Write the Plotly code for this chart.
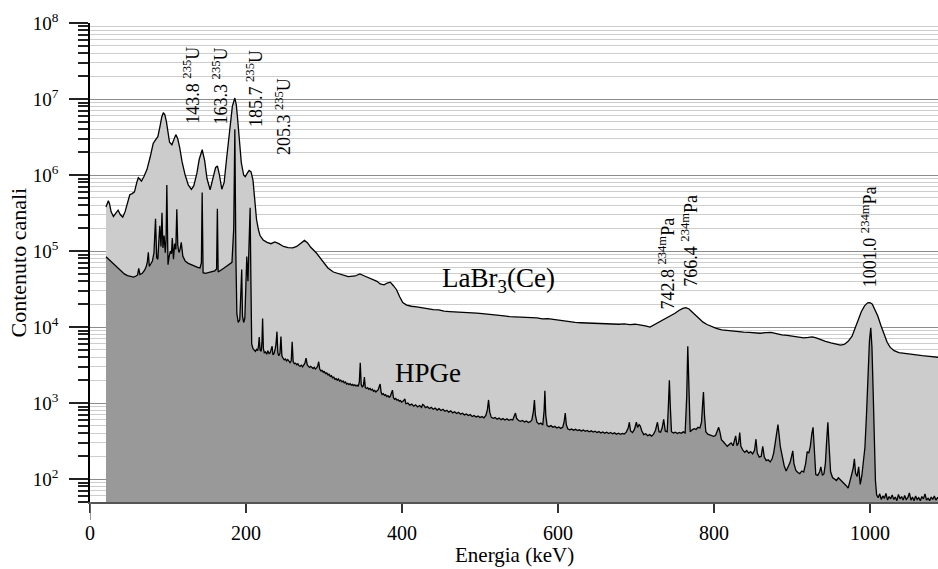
import math
import plotly.graph_objects as go

# ---- LaBr3(Ce) spectrum: (energy keV, counts per channel) ----
LABR3 = [
    (20.5, 380000), (22, 430000), (23.5, 460000), (25, 420000), (27, 330000), (30, 285000),
    (33, 310000), (36, 345000), (39, 300000), (42, 280000), (45, 330000), (48, 430000),
    (51, 550000), (54, 570000), (57, 600000), (60, 800000), (62, 920000), (64, 880000),
    (66, 830000), (69, 950000), (73, 1180000), (77, 1700000), (81, 2600000), (84, 2900000),
    (87, 3200000), (90, 4500000), (92, 5800000), (94, 6600000), (96, 6200000), (98, 5000000),
    (100, 3500000), (102, 2700000), (105, 2500000), (107.5, 3000000), (110, 3400000),
    (112.5, 3000000), (115, 2300000), (118, 1500000), (122, 1000000), (126, 740000),
    (130, 650000), (133, 720000), (137, 1050000), (140, 1600000), (143.8, 2150000),
    (147, 1550000), (150, 900000), (154, 640000), (158, 950000), (161, 1250000),
    (163.3, 1320000), (166, 1000000), (169, 650000), (172, 800000), (175, 1600000),
    (178, 2900000), (180, 4900000), (182.5, 8000000), (185.7, 10300000), (187.5, 8500000),
    (189, 5900000), (191, 3000000), (194, 1450000), (197, 1000000), (199, 950000),
    (201.5, 1050000), (204, 1150000), (206.5, 1100000), (209, 850000), (211, 500000),
    (213.5, 260000), (216, 190000), (218, 160000), (222, 140000), (227, 130000),
    (232, 125000), (237, 132000), (242, 125000), (248, 115000), (254, 111000),
    (260, 110000), (265, 115000), (270, 127000), (275, 138000), (279, 128000),
    (283, 112000), (290, 95000), (298, 75000), (305, 60000), (312, 53000), (321, 49000),
    (331, 46000), (340, 47000), (346, 50000), (352, 47000), (358, 44000), (363, 42000),
    (368, 40000), (372, 37000), (377, 36000), (381, 38000), (385, 39000), (389, 35000),
    (393, 31000), (397, 25000), (401, 21000), (406, 19500), (412, 18800), (419, 18500),
    (426, 18000), (433, 17300), (440, 17000), (447, 16800), (454, 16200), (461, 16000),
    (468, 15900), (475, 15700), (482, 15500), (489, 15600), (496, 15300), (503, 15000),
    (510, 14800), (517, 14400), (524, 14200), (531, 14000), (538, 13700), (545, 13600),
    (552, 13500), (559, 13300), (566, 13300), (573, 13200), (580, 12800), (587, 12900),
    (594, 12600), (601, 12300), (608, 11900), (615, 11700), (622, 11500), (629, 11400),
    (636, 11300), (643, 11200), (650, 11100), (657, 11000), (664, 11100), (671, 10950),
    (678, 10900), (685, 11000), (692, 10800), (699, 10900), (706, 10700), (712, 10400),
    (718, 10000), (724, 10800), (730, 11800), (736, 12600), (740, 13200), (745, 14000),
    (750, 15200), (755, 16500), (760, 17600), (764, 18000), (768, 17300), (772, 15800),
    (776, 14500), (781, 12800), (786, 11600), (791, 10800), (797, 10100), (803, 9600),
    (810, 9200), (817, 9000), (824, 8800), (831, 8700), (838, 8600), (845, 8500),
    (852, 8400), (859, 8300), (866, 8450), (873, 8500), (880, 8200), (887, 7900),
    (894, 7800), (901, 7600), (908, 7400), (915, 7200), (921, 7300), (926, 7450),
    (931, 7200), (937, 6800), (943, 6500), (950, 6200), (956, 6000), (962, 5800),
    (967, 5900), (972, 6500), (977, 7600), (981, 9500), (985, 12500), (989, 16000),
    (993, 19000), (997, 20800), (1000, 21000), (1003, 20000), (1006, 17500), (1010, 14000),
    (1014, 10500), (1018, 8000), (1022, 6300), (1026, 5400), (1031, 4900), (1037, 4600),
    (1043, 4500), (1049, 4400), (1055, 4300), (1061, 4250), (1067, 4200), (1073, 4150),
    (1079, 4100), (1085, 4050), (1088, 4000),
]

# ---- HPGe spectrum: (energy keV, counts per channel) ----
HPGE = [
    (20.5, 84000), (24, 78000), (28, 71000), (32, 64000), (36, 59000), (40, 54000),
    (44, 50000), (48, 47500), (52, 46000), (56, 45500), (59, 47000), (61, 48500),
    (62.5, 59000), (64, 49000), (67, 51000), (70, 56000), (72, 62000), (73.5, 72000),
    (74.8, 96000), (76, 63000), (78, 68000), (80, 74000), (82, 95000), (84, 265000),
    (85.5, 82000), (87, 78000), (88.5, 150000), (89.5, 215000), (91, 115000), (92.3, 320000),
    (93.5, 110000), (95, 160000), (96.5, 95000), (97.5, 140000), (98.5, 740000), (100, 66000),
    (101.5, 85000), (103, 100000), (104.5, 92000), (105.5, 148000), (107, 78000),
    (108.5, 125000), (110, 105000), (111.3, 355000), (112.5, 120000), (114, 96000),
    (115.5, 105000), (117, 130000), (119, 86000), (122, 74000), (126, 69000), (130, 66000),
    (134, 63000), (138, 61000), (141, 60000), (142.8, 70000), (143.8, 590000), (145, 52000),
    (148, 51000), (152, 52500), (156, 54000), (160, 55000), (162.3, 58000), (163.3, 360000),
    (164.3, 53000), (167, 55000), (171, 59000), (175, 63000), (179, 67000), (182, 71000),
    (184.3, 200000), (185.7, 4000000), (187, 90000), (188.3, 15000), (190, 11500),
    (192, 12500), (193.5, 30000), (194.5, 57000), (195.5, 14000), (197, 11500), (198.5, 13000),
    (200, 50000), (201, 85000), (202.5, 40000), (204, 150000), (205.3, 370000), (206.3, 40000),
    (207.3, 6000), (209, 5200), (210.5, 5000), (212, 4800), (213.5, 5100), (215, 4900),
    (216, 5600), (217, 7400), (218, 5000), (219.5, 4800), (220.5, 6500), (221.3, 13000),
    (222.3, 5200), (223.5, 4600), (225, 4700), (226.5, 4400), (228, 4900), (229.5, 4500),
    (231, 4600), (232.5, 5300), (233.5, 5600), (234.5, 4300), (236, 4500), (237.5, 5200),
    (238.5, 6000), (239.7, 8700), (240.8, 4600), (242, 4200), (243.5, 4500), (244.8, 7500),
    (246, 4200), (247.5, 3900), (249, 3700), (250.5, 3800), (252, 3600), (253.5, 3750),
    (255, 3500), (256.5, 3400), (258, 3600), (259.2, 6400), (260.5, 3500), (262, 3300),
    (263.5, 3350), (265, 3200), (266.5, 3300), (268, 3100), (269.5, 3050), (271, 3150),
    (272.5, 3000), (274, 3200), (275.5, 3350), (277, 3900), (278.5, 3200), (280, 3050),
    (281.5, 2950), (283, 3050), (284.5, 2900), (286, 2850), (287.5, 2950), (289, 2800),
    (290.5, 2900), (292, 3100), (293.2, 3500), (294.5, 2800), (296, 2650), (297.5, 2700),
    (299, 2550), (300.5, 2600), (302, 2450), (303.5, 2500), (305, 2350), (306.5, 2400),
    (308, 2250), (309.5, 2300), (311, 2150), (312.5, 2200), (314, 2050), (315.5, 2100),
    (317, 2000), (318.5, 2080), (320, 1950), (321.5, 2000), (323, 1900), (324.5, 1950),
    (326, 1850), (327.5, 1900), (329, 1780), (330.5, 1820), (332, 1750), (333.5, 1800),
    (335, 1720), (336.5, 1760), (338, 1700), (339.5, 1740), (341, 1680), (342.5, 1720),
    (344, 1660), (345.3, 1900), (346.5, 3400), (347.7, 1750), (349, 1640), (350.5, 1700),
    (351.8, 2200), (353, 1600), (354.5, 1560), (356, 1600), (357.5, 1520), (359, 1560),
    (360.5, 1480), (362, 1520), (363.5, 1430), (365, 1470), (366.5, 1400), (368, 1440),
    (369.5, 1500), (370.8, 1650), (372, 1780), (373.2, 1400), (374.5, 1300), (376, 1330),
    (377.5, 1260), (379, 1290), (380.5, 1220), (382, 1250), (383.5, 1190), (385, 1230),
    (386.5, 1350), (387.8, 1480), (389, 1180), (390.5, 1120), (392, 1150), (393.5, 1090),
    (395, 1110), (396.5, 1060), (398, 1080), (399.5, 1030), (401, 1050), (402.5, 1120),
    (403.8, 1130), (405, 980), (407.5, 1000), (410, 940), (412.5, 970), (415, 910),
    (417.5, 950), (420, 890), (422.5, 930), (425, 880), (426.5, 960), (428, 940), (430, 870),
    (432.5, 900), (435, 850), (437.5, 880), (440, 830), (442.5, 860), (445, 810),
    (447.5, 845), (450, 800), (452.5, 830), (455, 780), (457.5, 805), (460, 760),
    (462.5, 790), (465, 745), (467.5, 770), (470, 730), (472.5, 755), (475, 715),
    (477.5, 735), (480, 700), (482.5, 720), (485, 685), (487.5, 705), (490, 665),
    (492.5, 685), (495, 655), (497.5, 675), (500, 645), (502.5, 665), (505, 640),
    (507.5, 690), (509.5, 820), (511, 1100), (512.5, 760), (514.5, 650), (517, 630),
    (519.5, 645), (522, 615), (524.5, 635), (527, 605), (529.5, 625), (532, 600),
    (534.5, 620), (537, 595), (539.5, 610), (542, 600), (544, 680), (545.5, 740), (547, 630),
    (549.5, 590), (552, 575), (554.5, 590), (557, 565), (559.5, 580), (562, 555),
    (564.5, 570), (566.5, 600), (568.5, 780), (569.8, 1100), (571, 700), (573, 560),
    (575.5, 530), (578, 545), (580.5, 515), (582.2, 800), (583.2, 1450), (584.3, 700),
    (586, 505), (588.5, 490), (591, 505), (593.5, 480), (596, 495), (598.5, 470),
    (601, 485), (603.5, 465), (606, 480), (607.8, 560), (609.3, 740), (610.7, 520),
    (612.5, 460), (615, 445), (617.5, 455), (620, 440), (622.5, 452), (625, 435),
    (627.5, 445), (630, 430), (632.5, 442), (635, 425), (637.5, 437), (640, 420),
    (642.5, 432), (645, 415), (647.5, 426), (650, 410), (652.5, 422), (655, 405),
    (657.5, 418), (660, 402), (662.5, 414), (665, 398), (667.5, 410), (670, 395),
    (672.5, 406), (675, 390), (677.5, 402), (680, 388), (682.5, 400), (685, 392),
    (687.5, 415), (690, 470), (691.5, 560), (693, 430), (695.5, 410), (698, 450),
    (700.5, 560), (702, 480), (704, 520), (705.5, 500), (707.5, 430), (710, 385),
    (712.5, 395), (715, 372), (717.5, 385), (720, 368), (722.5, 390), (725, 440),
    (727.5, 560), (729.5, 420), (731.5, 415), (733.5, 470), (735.5, 610), (737.5, 430),
    (740, 420), (741.5, 900), (742.8, 2000), (744, 900), (745.5, 420), (748, 405),
    (750.5, 415), (753, 398), (755.5, 412), (758, 400), (760.5, 418), (763, 405),
    (765, 1200), (766.4, 5600), (767.8, 1200), (769.5, 420), (772, 445), (774.5, 460),
    (777, 450), (779.5, 480), (782, 470), (784, 560), (785.5, 1000), (786.5, 1400),
    (787.8, 700), (789.5, 420), (792, 390), (794.5, 380), (797, 370), (799.5, 365),
    (802, 375), (804, 420), (806, 480), (807.5, 420), (809.5, 330), (812, 310),
    (814.5, 290), (817, 270), (819.5, 285), (822, 300), (824.5, 275), (826.5, 330),
    (827.8, 370), (829.5, 275), (831.5, 300), (833, 410), (834.5, 270), (837, 240),
    (839.5, 225), (842, 238), (844.5, 220), (847, 230), (849.5, 215), (852, 240),
    (853.8, 335), (855.5, 220), (858, 195), (860.5, 200), (862.5, 270), (864.5, 195),
    (867, 175), (869.5, 180), (872, 168), (874.5, 185), (876.5, 220), (878.5, 300),
    (880.5, 440), (882, 520), (883.5, 380), (885, 270), (887.5, 200), (890, 150),
    (892.5, 128), (895, 145), (897.5, 165), (899.5, 200), (901, 235), (902.5, 160),
    (905, 130), (907.5, 122), (910, 118), (912.5, 128), (915, 124), (917.5, 160),
    (919.5, 230), (921.5, 220), (923.5, 270), (925.5, 400), (927, 480), (928.5, 260),
    (930.5, 115), (933, 112), (935.5, 125), (937, 145), (939, 112), (941, 118),
    (942.8, 160), (944.3, 300), (946, 560), (947.5, 280), (949.5, 125), (952, 105),
    (954.5, 100), (957, 96), (959.5, 104), (962, 98), (964.5, 94), (967, 88), (969.5, 82),
    (972, 76), (974, 95), (976.5, 115), (978.5, 140), (980, 185), (981.5, 120),
    (983.5, 108), (985.5, 145), (987.5, 85), (989.5, 110), (991.5, 160), (993.5, 260),
    (995.5, 700), (997.5, 2400), (999.3, 6500), (1001.0, 9800), (1002.5, 5500),
    (1004, 1500), (1005.5, 300), (1007, 95), (1008.5, 62), (1010.5, 57), (1012.5, 64),
    (1014.5, 54), (1016.5, 60), (1018.5, 56), (1020.5, 65), (1022.5, 53), (1024.5, 59),
    (1026.5, 55), (1028.5, 62), (1030.5, 54), (1032.5, 58), (1034.5, 52), (1036.5, 63),
    (1038.5, 55), (1040.5, 59), (1042.5, 53), (1044.5, 61), (1046.5, 54), (1048.5, 57),
    (1050.5, 66), (1052.5, 53), (1054.5, 58), (1056.5, 52), (1058.5, 60), (1060.5, 54),
    (1062.5, 57), (1064.5, 52), (1066.5, 59), (1068.5, 55), (1070.5, 64), (1072.5, 53),
    (1074.5, 56), (1076.5, 52), (1078.5, 58), (1080.5, 54), (1082.5, 60), (1084.5, 53),
    (1086.5, 57), (1088, 55),
]

# ---- Peak labels: energy, nuclide, label anchor (keV, counts at text start) ----
PEAK_ENERGY = [143.8, 163.3, 185.7, 205.3, 742.8, 766.4, 1001.0]
PEAK_NUCLIDE = ["<sup>235</sup>U", "<sup>235</sup>U", "<sup>235</sup>U", "<sup>235</sup>U",
                "<sup>234m</sup>Pa", "<sup>234m</sup>Pa", "<sup>234m</sup>Pa"]
LABEL_KEV = [130.8, 166.7, 211.5, 247.4, 739.7, 769.2, 998.7]
LABEL_COUNTS = [4.4e6, 4.3e6, 4.1e6, 1.75e6, 1.6e4, 3.2e4, 3.2e4]

# leader lines from label to peak: (keV0, counts0, keV1, counts1)
LEADERS = [
    (136.8, 2.91e6, 142.3, 3.68e6),
    (164.5, 3.57e6, 164.5, 2.51e6),
    (232.9, 1.85e6, 213.6, 1.01e6),
]

X_TICKS = [0, 200, 400, 600, 800, 1000]
Y_DECADES = [2, 3, 4, 5, 6, 7, 8]
X_MAX = 1087.2
Y_MIN, Y_MAX = 50, 1e8

FONT = "Liberation Serif, Times New Roman, serif"
LIGHT = "#cccccc"
DARK = "#999999"
FLOOR = 1.0  # below the visible range, closes the filled areas


def split(pairs):
    return [p[0] for p in pairs], [p[1] for p in pairs]


fig = go.Figure()

for pairs, fillcol in ((LABR3, LIGHT), (HPGE, DARK)):
    xs, ys = split(pairs)
    # filled area down to the axis floor
    fig.add_trace(go.Scatter(
        x=[xs[0]] + xs + [xs[-1]], y=[FLOOR] + ys + [FLOOR],
        mode="lines", fill="toself", fillcolor=fillcol,
        line=dict(width=0, color=fillcol), hoverinfo="skip", showlegend=False,
    ))
    # spectrum outline
    fig.add_trace(go.Scatter(
        x=xs, y=ys, mode="lines", line=dict(color="black", width=1.3),
        showlegend=False,
    ))

# minor ticks at 2..9 x 10^n
minor_vals = [k * 10 ** n for n in range(1, 8) for k in range(2, 10) if k * 10 ** n >= Y_MIN]

annotations = []
for e, nuc, lx, ly in zip(PEAK_ENERGY, PEAK_NUCLIDE, LABEL_KEV, LABEL_COUNTS):
    annotations.append(dict(
        x=lx, y=math.log10(ly), xref="x", yref="y",
        text=f"{e:.1f} {nuc}", textangle=-90, showarrow=False,
        xanchor="center", yanchor="bottom",
        font=dict(family=FONT, size=18, color="black"),
    ))

annotations += [
    dict(x=524, y=math.log10(4.2e4), xref="x", yref="y", text="LaBr<sub>3</sub>(Ce)",
         showarrow=False, xanchor="center", yanchor="middle",
         font=dict(family=FONT, size=27, color="black")),
    dict(x=433, y=math.log10(2500), xref="x", yref="y", text="HPGe",
         showarrow=False, xanchor="center", yanchor="middle",
         font=dict(family=FONT, size=27, color="black")),
    dict(x=-72 / 848, y=0.5, xref="paper", yref="paper", text="Contenuto canali",
         textangle=-90, showarrow=False, xanchor="center", yanchor="middle",
         font=dict(family=FONT, size=22, color="black")),
    dict(x=0.5, y=-40 / 479, xref="paper", yref="paper", text="Energia (keV)",
         showarrow=False, xanchor="center", yanchor="top", borderpad=0,
         font=dict(family=FONT, size=21, color="black")),
]

shapes = [
    dict(type="line", xref="x", yref="y", x0=a, y0=math.log10(b), x1=c, y1=math.log10(d),
         line=dict(color="black", width=1))
    for a, b, c, d in LEADERS
]
shapes.append(dict(type="line", xref="x", yref="paper", x0=0, x1=0, y0=0, y1=-18 / 479,
                   line=dict(color="#777777", width=1.5)))

fig.update_layout(
    width=938, height=569,
    margin=dict(l=90, r=0, t=23, b=67, autoexpand=False),
    paper_bgcolor="white", plot_bgcolor="white",
    font=dict(family=FONT, size=20, color="black"),
    annotations=annotations, shapes=shapes,
    xaxis=dict(
        range=[0, X_MAX], tickmode="array", tickvals=X_TICKS,
        ticks="outside", ticklen=9, tickwidth=1.5, tickcolor="#333333",
        showline=True, linecolor="#555555", linewidth=1.5,
        showgrid=False, zeroline=False, ticklabelstandoff=3, automargin=False,
        tickfont=dict(family=FONT, size=20, color="black"),
    ),
    yaxis=dict(
        type="log", range=[math.log10(Y_MIN), math.log10(Y_MAX)],
        tickmode="array", tickvals=[10 ** d for d in Y_DECADES],
        ticktext=[f"10<sup>{d}</sup>" for d in Y_DECADES],
        ticks="outside", ticklen=19, tickwidth=1.5,
        tickcolor="#222222", showline=True, linecolor="black", linewidth=1.5,
        showgrid=True, gridcolor="#8c8c8c", gridwidth=1, zeroline=False,
        ticklabelstandoff=7, automargin=False,
        tickfont=dict(family=FONT, size=19, color="black"),
        minor=dict(tickmode="array", tickvals=minor_vals, ticks="outside", ticklen=10,
                   tickwidth=1.5, tickcolor="#222222", showgrid=True,
                   gridcolor="#cdcdcd", gridwidth=1),
    ),
)

fig.write_html("out.html")
